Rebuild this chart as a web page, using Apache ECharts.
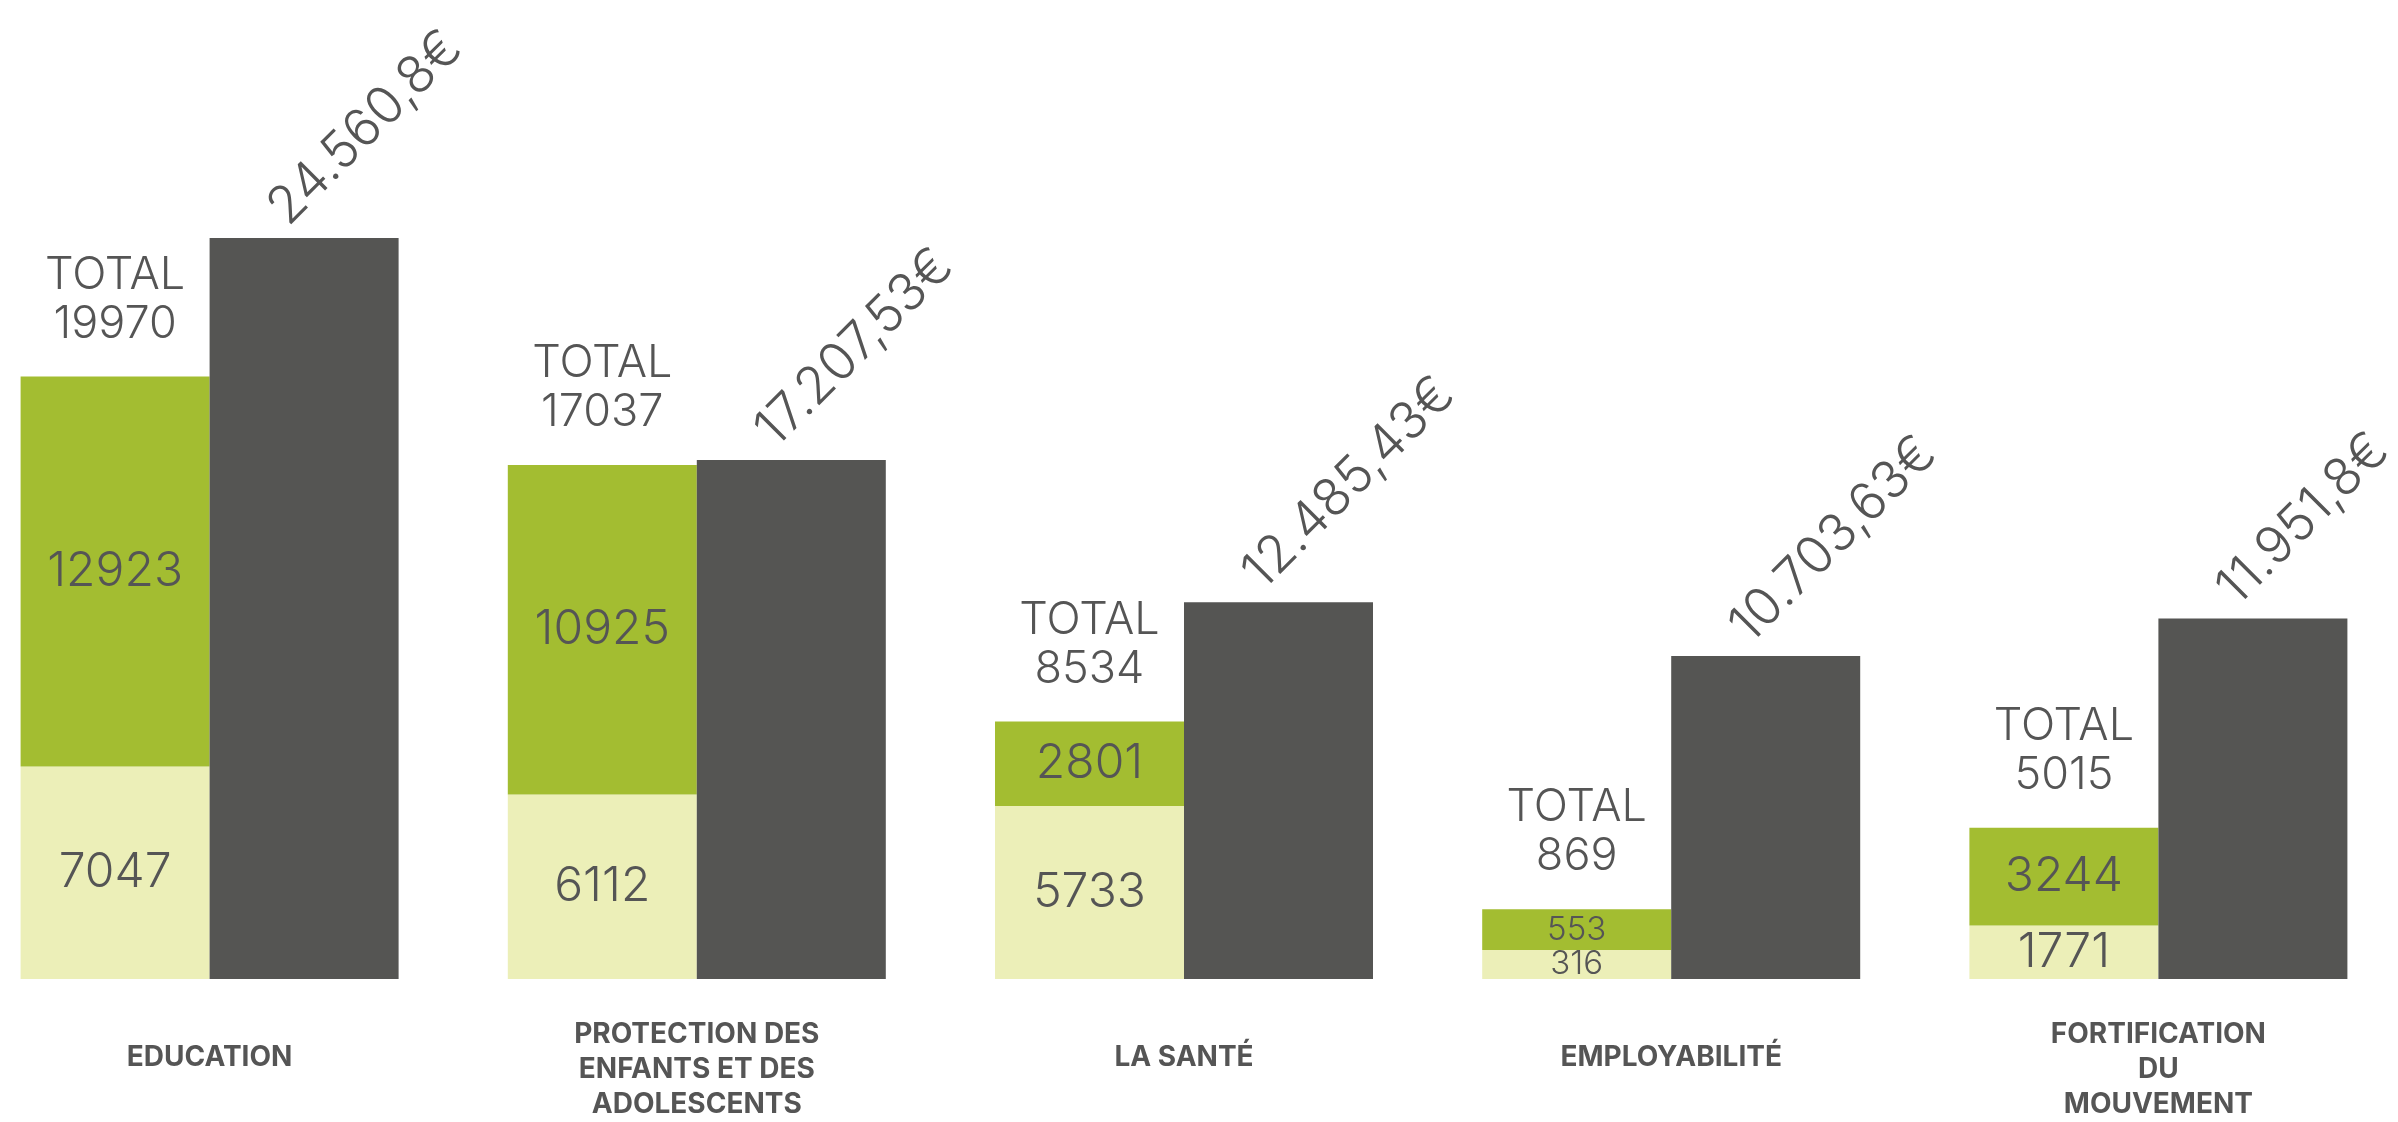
<!DOCTYPE html>
<html>
<head>
<meta charset="utf-8">
<script src="https://cdn.jsdelivr.net/npm/echarts@6/dist/echarts.min.js"></script>
<style>
html,body{margin:0;padding:0;background:#fff;overflow:hidden;width:2398px;height:1122px;}
#chart{position:absolute;left:-34px;top:0;width:2436px;height:1122px;}
</style>
</head>
<body>
<div id="chart"></div>
<script>
const categories = ['EDUCATION', 'PROTECTION DES\nENFANTS ET DES\nADOLESCENTS', 'LA SANTÉ', 'EMPLOYABILITÉ', 'FORTIFICATION\nDU\nMOUVEMENT'];
const lightCounts = [7047, 6112, 5733, 316, 1771];
const greenCounts = [12923, 10925, 2801, 553, 3244];
const totalCounts = [19970, 17037, 8534, 869, 5015];
// segment heights as drawn in the original (the small employability segments are drawn taller than scale)
const lightBarHeights = [7047, 6112, 5733, 960, 1771];
const greenBarHeights = [12923, 10925, 2801, 1350, 3244];
const budget = [24560.8, 17207.53, 12485.43, 10703.63, 11951.8];
const budgetLabels = ['24.560,8€', '17.207,53€', '12.485,43€', '10.703,63€', '11.951,8€'];

const FONT = 'Inter, "Open Sans", sans-serif';
const TXT = '#555555';
const BW = 189;

const chart = echarts.init(document.getElementById('chart'), null, {renderer: 'canvas'});

function insideData(heights, counts) {
  return heights.map((v, i) => ({
    value: v,
    label: {fontSize: counts[i] < 1000 ? 33 : 48}
  }));
}

const option = {
  backgroundColor: '#ffffff',
  animation: false,
  grid: {left: 0, right: 0, top: 74, height: 909, containLabel: false},
  xAxis: {
    type: 'category',
    data: categories,
    axisLine: {show: false},
    axisTick: {show: false},
    axisLabel: {
      interval: 0,
      margin: 38,
      color: TXT,
      fontFamily: FONT,
      fontWeight: 700,
      fontSize: 28,
      lineHeight: 35,
      formatter: v => v.indexOf('\n') >= 0 ? v : '{one|' + v + '}',
      rich: {
        one: {fontFamily: FONT, fontWeight: 700, fontSize: 28, color: TXT, lineHeight: 81}
      }
    }
  },
  yAxis: {type: 'value', min: 0, max: 30000, show: false},
  series: [
    {
      name: 'light', type: 'bar', stack: 'people', barWidth: BW, barGap: '0%',
      data: insideData(lightBarHeights, lightCounts),
      itemStyle: {color: '#ecefb8'},
      label: {
        show: true, position: 'inside', color: TXT, fontFamily: FONT, fontWeight: 300,
        formatter: p => String(lightCounts[p.dataIndex])
      }
    },
    {
      name: 'green', type: 'bar', stack: 'people', barWidth: BW, barGap: '0%',
      data: insideData(greenBarHeights, greenCounts),
      itemStyle: {color: '#a3bd31'},
      label: {
        show: true, position: 'inside', color: TXT, fontFamily: FONT, fontWeight: 300,
        formatter: p => String(greenCounts[p.dataIndex])
      }
    },
    {
      name: 'total', type: 'bar', stack: 'people', barWidth: BW, barGap: '0%',
      data: totalCounts.map(() => 0),
      itemStyle: {color: 'transparent'},
      label: {
        show: true, position: 'top', distance: 28, color: TXT, fontFamily: FONT, fontWeight: 300,
        fontSize: 45, lineHeight: 49, align: 'center',
        formatter: p => 'TOTAL\n' + totalCounts[p.dataIndex]
      }
    },
    {
      name: 'budget', type: 'bar', barWidth: BW, barGap: '0%',
      data: budget,
      itemStyle: {color: '#555553'},
      label: {
        show: true, position: 'top', distance: 12, offset: [-12, 0], rotate: 45,
        align: 'left', verticalAlign: 'bottom',
        color: TXT, fontFamily: FONT, fontWeight: 300, fontSize: 52,
        formatter: p => budgetLabels[p.dataIndex]
      }
    }
  ]
};
chart.setOption(option);
</script>
</body>
</html>
